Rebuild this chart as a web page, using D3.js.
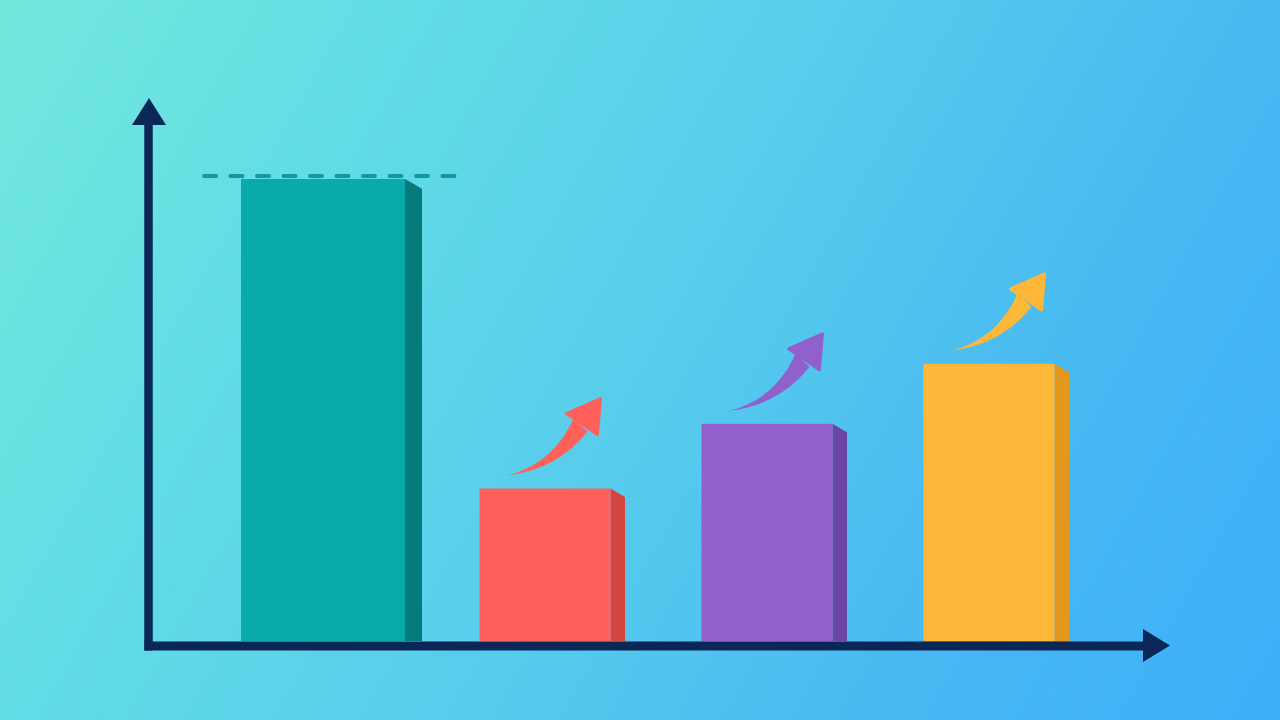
<!DOCTYPE html>
<html>
<head>
<meta charset="utf-8">
<script src="https://cdn.jsdelivr.net/npm/d3@7"></script>
<style>
  html, body { margin: 0; padding: 0; }
  svg { display: block; }
</style>
</head>
<body>
<div id="chart"></div>
<script>
// datos
const categorias = ["A", "B", "C", "D"];
const valores = [100, 33, 47, 60];
const conFlecha = [false, true, true, true];

const colores = ["#0aa9aa", "#ff605a", "#9061cd", "#fdb83a"];
const coloresLado = ["#067b7c", "#d5453f", "#6c46a3", "#e3971b"];

const ancho = 1280, alto = 720;
const baseY = 641;

const $svg = d3.select("#chart")
  .append("svg")
  .attr("width", ancho)
  .attr("height", alto);

// fondo degradado
const defs = $svg.append("defs");
const grad = defs.append("linearGradient")
  .attr("id", "fondo")
  .attr("gradientUnits", "userSpaceOnUse")
  .attr("x1", 0).attr("y1", 0)
  .attr("x2", ancho).attr("y2", alto);
grad.append("stop").attr("offset", "0%").attr("stop-color", "#72e8dc");
grad.append("stop").attr("offset", "25%").attr("stop-color", "#62dce6");
grad.append("stop").attr("offset", "50%").attr("stop-color", "#58cdec");
grad.append("stop").attr("offset", "76%").attr("stop-color", "#48b9f1");
grad.append("stop").attr("offset", "100%").attr("stop-color", "#3eaefa");

$svg.append("rect")
  .attr("width", ancho)
  .attr("height", alto)
  .attr("fill", "url(#fondo)");

// escalas
const x = d3.scalePoint()
  .domain(categorias)
  .range([323, 989]);

const y = d3.scaleLinear()
  .domain([0, 100])
  .range([baseY, 179]);

const anchoBarra = i => i === 0 ? 164 : 131;
const fondoBarra = i => i === 0 ? 17 : 14.5;

// barras
const barras = $svg.append("g")
  .selectAll("g")
  .data(categorias)
  .join("g");

// cara lateral
barras.append("path")
  .attr("d", (c, i) => {
    const x1 = x(c) + anchoBarra(i) / 2;
    const d = fondoBarra(i);
    const top = y(valores[i]);
    return `M${x1},${top}L${x1 + d},${top + d * 0.58}L${x1 + d},${baseY}L${x1},${baseY}Z`;
  })
  .attr("fill", (c, i) => coloresLado[i]);

// cara frontal
barras.append("rect")
  .attr("x", (c, i) => x(c) - anchoBarra(i) / 2)
  .attr("y", (c, i) => y(valores[i]))
  .attr("width", (c, i) => anchoBarra(i))
  .attr("height", (c, i) => baseY - y(valores[i]))
  .attr("fill", (c, i) => colores[i]);

// linea punteada sobre la barra mas alta
const maxI = d3.maxIndex(valores);
$svg.append("line")
  .attr("x1", x(categorias[maxI]) - anchoBarra(maxI) / 2 - 37)
  .attr("x2", x(categorias[maxI]) + anchoBarra(maxI) / 2 + 50)
  .attr("y1", y(valores[maxI]) - 3)
  .attr("y2", y(valores[maxI]) - 3)
  .attr("stroke", "#129a9b")
  .attr("stroke-width", 4)
  .attr("stroke-linecap", "round")
  .attr("stroke-dasharray", "12 14.5");

// flechas de subida
const cuerpoFlecha = "M0,0 Q46,-12 66,-57 L80,-44 Q50,-6 0,0 Z";
const puntaFlecha = "M59,-62 L93,-77 L90,-41 Z";

const flechas = barras.filter((c, i) => conFlecha[i])
  .append("g")
  .attr("transform", c => {
    const i = categorias.indexOf(c);
    return `translate(${x(c) - anchoBarra(i) / 2 + 28}, ${y(valores[i]) - 13})`;
  })
  .attr("fill", c => colores[categorias.indexOf(c)]);

flechas.append("path").attr("d", cuerpoFlecha);
flechas.append("path")
  .attr("d", puntaFlecha)
  .attr("stroke", c => colores[categorias.indexOf(c)])
  .attr("stroke-width", 3)
  .attr("stroke-linejoin", "round");

// ejes
const azulEje = "#0b2757";

const ejeX = d3.scaleLinear().range([144, 1150]);
$svg.append("g")
  .attr("transform", `translate(0, ${baseY + 4.5})`)
  .call(d3.axisBottom(ejeX).tickValues([]).tickSizeOuter(0))
  .select(".domain")
  .attr("stroke", azulEje)
  .attr("stroke-width", 9);

const ejeY = d3.scaleLinear().range([650, 115]);
$svg.append("g")
  .attr("transform", `translate(148, 0)`)
  .call(d3.axisLeft(ejeY).tickValues([]).tickSizeOuter(0))
  .select(".domain")
  .attr("stroke", azulEje)
  .attr("stroke-width", 8.5);

// puntas de los ejes
$svg.append("path")
  .attr("d", "M132,125 L149,98 L166,125 Z")
  .attr("fill", azulEje);
$svg.append("path")
  .attr("d", "M1143,629 L1170,645.5 L1143,662 Z")
  .attr("fill", azulEje);
</script>
</body>
</html>
